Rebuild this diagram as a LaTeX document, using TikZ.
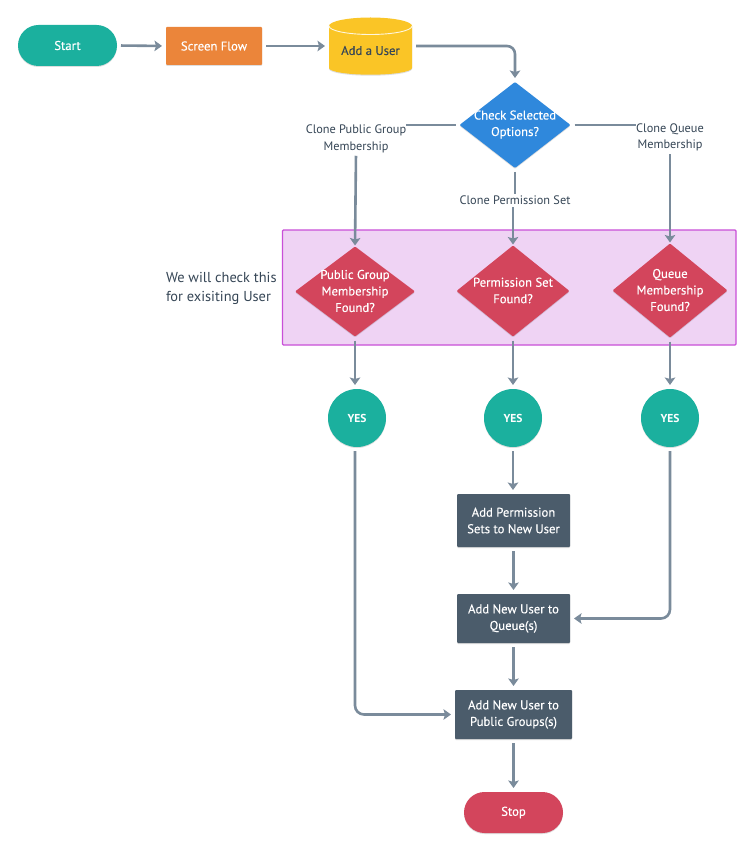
\documentclass[tikz,border=0pt]{standalone}
\usepackage{fontspec}
\setmainfont{PT Sans}
\newfontfamily\medfont[FakeBold=0.25]{PT Sans}
\usetikzlibrary{arrows.meta,shapes.geometric,shadows}
\definecolor{cteal}{HTML}{1BB09E}
\definecolor{corange}{HTML}{EB853A}
\definecolor{cyellow}{HTML}{FAC526}
\definecolor{cblue}{HTML}{2F88DC}
\definecolor{cred}{HTML}{D3455C}
\definecolor{cslate}{HTML}{4B5C6B}
\definecolor{ctext}{HTML}{364656}
\definecolor{cline}{HTML}{7A8B9B}
\definecolor{cboxfill}{HTML}{EFD3F4}
\definecolor{cboxline}{HTML}{C94FD8}
\tikzset{
  soft/.style={drop shadow={shadow xshift=0pt,shadow yshift=-1pt,opacity=.18,fill=black!70}},
  every node/.style={inner sep=0pt,outer sep=0pt,font=\medfont\fontsize{12.7}{16.5}\selectfont,align=center},
  pill/.style={rectangle,soft,text=white,minimum width=99pt,minimum height=41pt,rounded corners=20.5pt},
  block/.style={rectangle,rounded corners=1pt,soft,fill=#1,text=white},
  gem/.style={diamond,soft,fill=#1,rounded corners=1pt},
  gemtext/.style={text=white,align=center,inner sep=0pt,yshift=0.5pt},
  disc/.style={circle,soft,fill=cteal,text=white,minimum size=58pt,font=\fontsize{11.5}{14}\selectfont\bfseries},
  note/.style={text=ctext,font=\fontsize{12.3}{16.3}\selectfont},
  conn/.style={draw=cline,line width=2.6pt,shorten <=4pt},
  arrow/.style={conn,-{Stealth[length=7.5pt,width=10.5pt,inset=1.5pt]},shorten >=4pt},
}
\begin{document}
\begin{tikzpicture}[x=1pt,y=-1pt]
\useasboundingbox (0,0) rectangle (754,850);
\fill[white] (0,0) rectangle (754,850);
% group band
\node[rectangle,draw=cboxline,fill=cboxfill,line width=1.2pt,rounded corners=1pt,minimum width=453.5pt,minimum height=115pt] (band) at (509.25,287.5) {};
\node[anchor=west,align=left,text=ctext,font=\fontsize{14.4}{19}\selectfont] (bandnote) at (166,288) {We will check this\\for exisiting User};
% top row
\node[pill,fill=cteal] (start) at (67.5,45.5) {Start};
\node[block=corange,minimum width=96pt,minimum height=38pt] (screen) at (214,46) {Screen Flow};
\path[fill=cyellow,soft] (329,26) arc[start angle=180,end angle=0,x radius=41.5pt,y radius=8.5pt]
  -- (412,68) arc[start angle=0,end angle=-180,x radius=41.5pt,y radius=6.7pt] -- cycle;
\draw[white!85!cyellow,line width=.9pt] (329,26) arc[start angle=180,end angle=360,x radius=41.5pt,y radius=8.5pt];
\node[rectangle,minimum width=83pt,minimum height=57pt] (user) at (370.5,46) {};
\node[text=ctext] (usertext) at (370.5,50.5) {Add a User};
% decision
\node[gem=cblue,minimum width=111pt,minimum height=86pt,label={[gemtext]center:Check Selected\\Options?}] (check) at (515,125) {};
% branch labels
\node[note] (lpub) at (356,139) {Clone Public Group\\Membership};
\node[note] (lperm) at (515,200) {Clone Permission Set};
\node[note] (lque) at (670,137.5) {Clone Queue\\Membership};
% red decisions
\node[gem=cred,minimum width=120pt,minimum height=90pt,label={[gemtext]center:Public Group\\Membership\\Found?}] (fpub) at (355,291.5) {};
\node[gem=cred,minimum width=113pt,minimum height=91pt,label={[gemtext]center:Permission Set\\Found?}] (fperm) at (513,291) {};
\node[gem=cred,minimum width=115pt,minimum height=94pt,label={[gemtext]center:Queue\\Membership\\Found?}] (fque) at (670,290.5) {};
% yes
\node[disc] (ypub) at (357,418) {YES};
\node[disc] (yperm) at (513,418) {YES};
\node[disc] (yque) at (670,418) {YES};
% actions
\node[block=cslate,minimum width=113pt,minimum height=53pt] (aperm) at (513.5,520.5) {Add Permission\\Sets to New User};
\node[block=cslate,minimum width=113pt,minimum height=49pt] (aque) at (513.5,618.5) {Add New User to\\Queue(s)};
\node[block=cslate,minimum width=117pt,minimum height=49pt] (apub) at (513.5,714.5) {Add New User to\\Public Groups(s)};
\node[pill,fill=cred] (stop) at (513.5,812.5) {Stop};
% connectors
\draw[arrow] (start.east) -- (screen.west);
\draw[arrow] (screen.east) -- (user.west |- screen.east);
\draw[arrow,rounded corners=8pt] (user.east) -- (check.north |- user.east) -- (check.north);
\draw[conn] (check.west) -- (lpub.east |- check.west);
\draw[conn] (check.east) -- (lque.west |- check.east);
\draw[conn,shorten >=2pt] (check.south) -- (lperm.north);
\draw[arrow,shorten <=3pt,shorten >=1pt] (lpub.south) -- (fpub.north);
\draw[arrow,shorten <=3pt,shorten >=1pt] (lperm.south -| fperm.north) -- (fperm.north);
\draw[arrow,shorten <=3pt,shorten >=1pt] (lque.south) -- (fque.north);
\draw[arrow] (fpub.south) -- (fpub.south |- ypub.north);
\draw[arrow] (fperm.south) -- (yperm.north);
\draw[arrow] (fque.south) -- (yque.north);
\draw[arrow] (yperm.south) -- (aperm.north -| yperm.south);
\draw[arrow] (aperm.south) -- (aque.north);
\draw[arrow] (aque.south) -- (apub.north);
\draw[arrow] (apub.south) -- (stop.north);
\draw[arrow,rounded corners=9pt] (yque.south) -- (yque.south |- aque.east) -- (aque.east);
\draw[arrow,rounded corners=9pt] (ypub.south -| fpub.south) -- (fpub.south |- apub.west) -- (apub.west);
\end{tikzpicture}
\end{document}
